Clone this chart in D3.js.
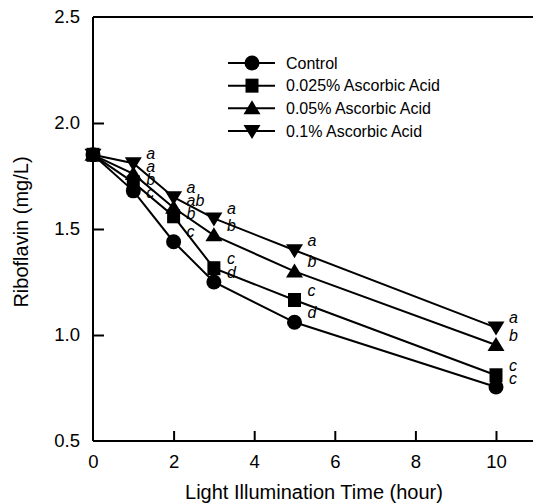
<!DOCTYPE html>
<html>
<head>
<meta charset="utf-8">
<script src="https://cdn.jsdelivr.net/npm/d3@7"></script>
<style>
  html, body { margin: 0; padding: 0; background: #fff; }
  svg { display: block; }
  text { font-family: "Liberation Sans", Arial, sans-serif; fill: #000; }
</style>
</head>
<body>
<svg id="chart" width="533" height="503"></svg>
<script>
// ---- data ----
const hours = [0, 1, 2, 3, 5, 10];
const seriesNames = ["Control", "0.025% Ascorbic Acid", "0.05% Ascorbic Acid", "0.1% Ascorbic Acid"];
const controlValues = [1.85, 1.68, 1.44, 1.25, 1.06, 0.755];
const aa025Values   = [1.85, 1.72, 1.56, 1.315, 1.165, 0.81];
const aa05Values    = [1.85, 1.76, 1.60, 1.47, 1.30, 0.953];
const aa1Values     = [1.85, 1.81, 1.65, 1.55, 1.40, 1.035];
const controlLetters = ["", "c", "c", "d", "d", "c"];
const aa025Letters   = ["", "b", "b", "c", "c", "c"];
const aa05Letters    = ["", "a", "ab", "b", "b", "b"];
const aa1Letters     = ["", "a", "a", "a", "a", "a"];
const xTicks = [0, 2, 4, 6, 8, 10];
const yTicks = [0.5, 1.0, 1.5, 2.0, 2.5];
const markerTypes = ["circle", "square", "triangleUp", "triangleDown"];

const series = [
  { name: seriesNames[0], values: controlValues, letters: controlLetters, marker: markerTypes[0] },
  { name: seriesNames[1], values: aa025Values, letters: aa025Letters, marker: markerTypes[1] },
  { name: seriesNames[2], values: aa05Values, letters: aa05Letters, marker: markerTypes[2] },
  { name: seriesNames[3], values: aa1Values, letters: aa1Letters, marker: markerTypes[3] }
];

// ---- layout ----
const svg = d3.select("#chart");
const plotLeft = 93, plotTop = 17, plotBottom = 441;
const x = d3.scaleLinear().domain([0, 11]).range([plotLeft, plotLeft + 11 * 40.3]);
const y = d3.scaleLinear().domain([0.5, 2.5]).range([plotBottom, plotTop]);

// marker path generators
function markerPath(type) {
  const p = d3.path();
  if (type === "circle") {
    p.arc(0, 0, 7.5, 0, 2 * Math.PI);
  } else if (type === "square") {
    p.rect(-6.5, -7, 13, 14);
  } else if (type === "triangleUp") {
    p.moveTo(0, -8); p.lineTo(8.5, 6); p.lineTo(-8.5, 6); p.closePath();
  } else {
    p.moveTo(0, 8); p.lineTo(8.5, -6); p.lineTo(-8.5, -6); p.closePath();
  }
  return p.toString();
}

// ---- axes ----
const xAxis = d3.axisBottom(x).tickValues(xTicks).tickSize(-10).tickPadding(14).tickFormat(d3.format("d"));
const gx = svg.append("g").attr("transform", `translate(0,${plotBottom})`).call(xAxis);
gx.select(".domain").attr("d", `M${plotLeft},0H533`);
const yAxis = d3.axisLeft(y).tickValues(yTicks).tickSize(-11).tickPadding(13).tickFormat(d3.format(".1f"));
const gy = svg.append("g").attr("transform", `translate(${plotLeft},0)`).call(yAxis);
gy.select(".domain").attr("d", `M0,${plotTop}V${plotBottom}`);
gy.selectAll(".tick").filter(d => d === 0.5 || d === 2.5).select("line").remove();
gx.selectAll(".tick").filter(d => d === 0).select("line").remove();
[gx, gy].forEach(g => {
  g.selectAll(".domain").attr("stroke", "#000").attr("stroke-width", 2);
  g.selectAll(".tick line").attr("stroke", "#000").attr("stroke-width", 2);
  g.selectAll(".tick text").attr("font-size", 18.5).attr("font-family", "Liberation Sans, Arial, sans-serif").attr("fill", "#000");
});
// top frame line
svg.append("line").attr("x1", plotLeft).attr("x2", 533).attr("y1", plotTop).attr("y2", plotTop)
  .attr("stroke", "#000").attr("stroke-width", 2);

// axis titles
svg.append("text").attr("x", 314).attr("y", 499)
  .attr("text-anchor", "middle").attr("font-size", 20).text("Light Illumination Time (hour)");
svg.append("text").attr("transform", `translate(28,232) rotate(-90)`)
  .attr("text-anchor", "middle").attr("font-size", 20).text("Riboflavin (mg/L)");

// ---- lines ----
const line = d3.line().x((d, i) => x(hours[i])).y(d => y(d));
series.forEach(s => {
  svg.append("path").attr("d", line(s.values)).attr("fill", "none")
    .attr("stroke", "#000").attr("stroke-width", 2);
});
series.forEach(s => {
  svg.append("g").selectAll("path").data(s.values).join("path")
    .attr("d", markerPath(s.marker))
    .attr("transform", (d, i) => `translate(${x(hours[i])},${y(d)})`)
    .attr("fill", "#000");
});

// ---- significance letters (stacked from top series to bottom) ----
const order = [3, 2, 1, 0];
hours.forEach((h, i) => {
  let prev = -Infinity;
  order.forEach(si => {
    const s = series[si];
    const lt = s.letters[i];
    if (!lt) return;
    const ly = Math.max(y(s.values[i]) - 10, prev + 13);
    prev = ly;
    svg.append("text").attr("x", x(h) + 13).attr("y", ly).attr("dy", "0.35em")
      .attr("font-size", 16).attr("font-style", "italic").text(lt);
  });
});

// ---- legend ----
const legend = svg.append("g");
const legendRowY = d3.scaleLinear().domain([0, 3]).range([63, 131]);
series.forEach((s, i) => {
  const ly = legendRowY(i);
  legend.append("line").attr("x1", 228).attr("x2", 275).attr("y1", ly).attr("y2", ly)
    .attr("stroke", "#000").attr("stroke-width", 2);
  legend.append("path").attr("d", markerPath(s.marker)).attr("transform", `translate(252,${ly})`).attr("fill", "#000");
  legend.append("text").attr("x", 286).attr("y", ly).attr("dy", "0.36em")
    .attr("font-size", 16).text(s.name);
});
</script>
</body>
</html>
